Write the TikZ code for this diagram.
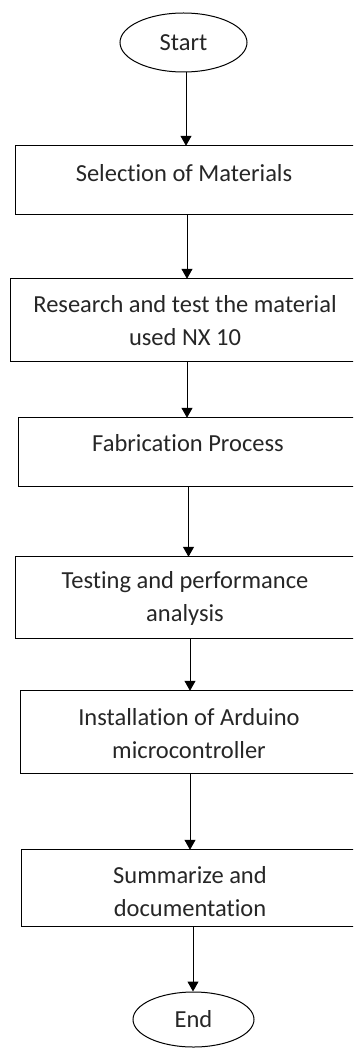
\documentclass[tikz,border=0pt]{standalone}
\usepackage{fontspec}
\setmainfont[Ligatures=NoCommon]{Carlito}
\usetikzlibrary{arrows.meta,shapes.geometric}
\begin{document}
\begin{tikzpicture}[x=1pt,y=-1pt,
  every node/.style={font=\fontsize{24.5}{33}\selectfont, text=black!85},
  stepbox/.style={rectangle, inner sep=0pt},
  outline/.style={line width=1.3pt},
  term/.style={draw, ellipse, line width=1pt, inner sep=0pt},
  caption/.style={align=center, inner sep=0pt},
  arr/.style={line width=1pt, -{Triangle[width=11pt,length=10pt]}}]
\useasboundingbox (0,0) rectangle (353,1048);
\clip (0,0) rectangle (353,1048);

% terminals
\node[term, minimum width=127pt, minimum height=59pt] (start) at (183.5,42.5) {Start};
\node[term, minimum width=121pt, minimum height=55pt] (end) at (193.5,1019.5) {End};

% process boxes (they run past the right edge of the page)
\node[stepbox, minimum width=400pt, minimum height=68pt] (b1) at (216,180) {};
\node[stepbox, minimum width=400pt, minimum height=82pt] (b2) at (211,320) {};
\node[stepbox, minimum width=400pt, minimum height=68pt] (b3) at (219,452) {};
\node[stepbox, minimum width=400pt, minimum height=81pt] (b4) at (216,597.5) {};
\node[stepbox, minimum width=400pt, minimum height=82pt] (b5) at (221,732) {};
\node[stepbox, minimum width=400pt, minimum height=76pt] (b6) at (222,888) {};
\foreach \b in {b1,b2,b3,b4,b5,b6}
  \draw[outline] (\b.north east) -- (\b.north west) -- (\b.south west) -- (\b.south east);

% box texts
\node[caption] (t1) at (184,173) {Selection of Materials};
\node[caption] (t2) at (185,321) {Research and test the material\\used NX 10};
\node[caption] (t3) at (188,443) {Fabrication Process};
\node[caption] (t4) at (185,598.5) {Testing and performance\\analysis};
\node[caption] (t5) at (189,733.5) {Installation of Arduino\\microcontroller};
\node[caption] (t6) at (190,892) {Summarize and\\documentation};

% arrow columns
\coordinate (x1) at (186,0);
\coordinate (x2) at (187,0);
\coordinate (x3) at (187,0);
\coordinate (x4) at (188.5,0);
\coordinate (x5) at (190,0);
\coordinate (x6) at (193,0);

% connectors
\draw[arr] (start.south -| x1) -- (b1.north -| x1);
\draw[arr] (b1.south -| x2) -- (b2.north -| x2);
\draw[arr] (b2.south -| x3) -- (b3.north -| x3);
\draw[arr] (b3.south -| x4) -- (b4.north -| x4);
\draw[arr] (b4.south -| x5) -- (b5.north -| x5);
\draw[arr] (b5.south -| x5) -- (b6.north -| x5);
\draw[arr] (b6.south -| x6) -- (end.north -| x6);
\end{tikzpicture}
\end{document}
